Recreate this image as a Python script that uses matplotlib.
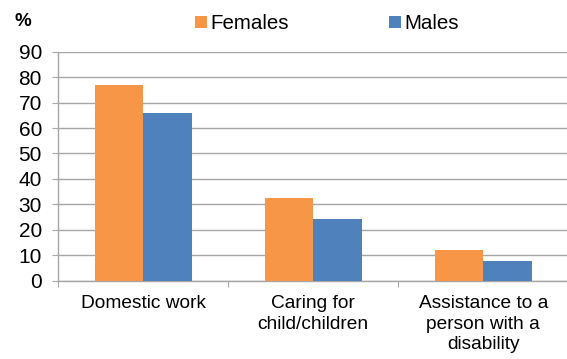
import matplotlib
matplotlib.use("Agg")
import matplotlib.pyplot as plt
import numpy as np

plt.rcParams['font.family'] = ['Liberation Sans', 'DejaVu Sans']

categories = ["Domestic work", "Caring for\nchild/children", "Assistance to a\nperson with a\ndisability"]
series_names = ["Females", "Males"]
females = [77.0, 32.5, 12.1]
males = [65.9, 24.1, 7.8]
yticks = [0, 10, 20, 30, 40, 50, 60, 70, 80, 90]

orange = "#F79646"
blue = "#4F81BD"
grid_col = "#A6A6A6"

fig = plt.figure(figsize=(5.67, 3.59), dpi=100)
ax = fig.add_axes([0.1028, 0.2181, 0.8995, 0.6379])

x = np.arange(len(categories))
w = 0.286
b1 = ax.bar(x - w / 2, females, w, color=orange, label=series_names[0], zorder=3)
b2 = ax.bar(x + w / 2, males, w, color=blue, label=series_names[1], zorder=3)

ax.set_ylim(0, 90)
ax.set_yticks(yticks)
ax.set_xlim(-0.5, 2.5)
ax.yaxis.grid(True, color=grid_col, linewidth=1.0, zorder=0)
ax.set_axisbelow(True)

for s in ["top", "right"]:
    ax.spines[s].set_visible(False)
for s in ["left", "bottom"]:
    ax.spines[s].set_color(grid_col)
    ax.spines[s].set_linewidth(1.0)

# category boundary ticks on x, labels at centres
ax.set_xticks(np.arange(-0.5, 3.0, 1.0))
ax.set_xticklabels([])
ax.tick_params(axis="x", which="major", direction="out", length=4.3, color=grid_col)
ax.set_xticks(x, minor=True)
ax.set_xticklabels(categories, minor=True, fontsize=13.8, linespacing=1.28, va="top")
ax.tick_params(axis="x", which="minor", length=0, pad=10.2)
ax.tick_params(axis="y", direction="out", length=4.3, color=grid_col, labelsize=15, pad=7.5)

fig.text(0.0247, 0.94, "%", fontsize=13.5, fontweight="bold", va="center", ha="left")

fig.legend(handles=[b1, b2], labels=series_names, loc="center left",
           bbox_to_anchor=(0.344, 0.934), ncol=2, frameon=False, fontsize=14.8,
           handlelength=0.57, handleheight=0.57, handletextpad=0.16,
           columnspacing=4.9, borderaxespad=0, borderpad=0)

fig.savefig("out.png", dpi=100)
